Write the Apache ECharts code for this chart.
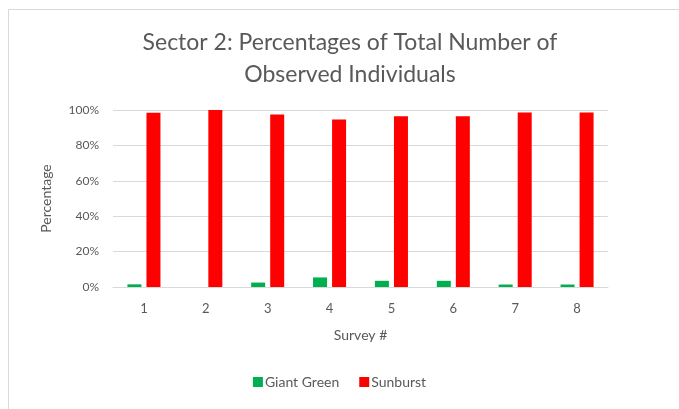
<!DOCTYPE html>
<html>
<head>
<meta charset="utf-8">
<script src="https://cdn.jsdelivr.net/npm/echarts@6/dist/echarts.min.js"></script>
<style>
  html, body { margin: 0; padding: 0; background: #fff; }
  #chart { width: 679px; height: 409px; }
</style>
</head>
<body>
<div id="chart"></div>
<script>
// Survey numbers along the x axis
const surveys = ['1', '2', '3', '4', '5', '6', '7', '8'];
// Share of observed individuals per species, in percent
const giantGreen = [1.5, 0, 2.5, 5.4, 3.5, 3.5, 1.4, 1.4];
const sunburst = [98.5, 100, 97.5, 94.6, 96.5, 96.5, 98.6, 98.6];
// Percentage axis
const yMin = 0, yMax = 100, yStep = 20;

const textColor = '#595959';
const font = 'Lato, "Open Sans", sans-serif';

const chart = echarts.init(document.getElementById('chart'));
chart.setOption({
  backgroundColor: '#ffffff',
  animation: false,
  graphic: [{
    type: 'rect',
    shape: { x: 8.5, y: 9.5, width: 700, height: 420 },
    style: { fill: 'none', stroke: '#d9d9d9', lineWidth: 1 },
    silent: true
  }],
  title: {
    text: 'Sector 2: Percentages of Total Number of\nObserved Individuals',
    left: 345, top: 22, textAlign: 'center',
    textStyle: { color: textColor, fontFamily: font, fontSize: 23, fontWeight: 'normal', lineHeight: 32 }
  },
  legend: {
    bottom: 15, left: 'center',
    itemWidth: 10, itemHeight: 10, itemGap: 20,
    icon: 'rect',
    textStyle: { color: textColor, fontFamily: font, fontSize: 14, padding: [0, 0, 0, -3] },
    data: ['Giant Green', 'Sunburst']
  },
  grid: { left: 113, right: 71, top: 110, bottom: 122, containLabel: false },
  xAxis: {
    type: 'category',
    data: surveys,
    name: 'Survey #', nameLocation: 'middle', nameGap: 41,
    nameTextStyle: { color: textColor, fontFamily: font, fontSize: 14 },
    axisLine: { lineStyle: { color: '#d9d9d9' } },
    axisTick: { show: false },
    axisLabel: { color: textColor, fontFamily: font, fontSize: 13, margin: 15 }
  },
  yAxis: {
    type: 'value',
    min: yMin, max: yMax, interval: yStep,
    name: 'Percentage', nameLocation: 'middle', nameGap: 60,
    nameTextStyle: { color: textColor, fontFamily: font, fontSize: 14 },
    axisLine: { show: false },
    axisTick: { show: false },
    axisLabel: { color: textColor, fontFamily: font, fontSize: 12, margin: 14, formatter: v => v + '%' },
    splitLine: { lineStyle: { color: '#d9d9d9', width: 1 } }
  },
  series: [
    { name: 'Giant Green', type: 'bar', data: giantGreen, barWidth: 14, barGap: '36%',
      itemStyle: { color: '#00b050' } },
    { name: 'Sunburst', type: 'bar', data: sunburst, barWidth: 14, barGap: '36%',
      itemStyle: { color: '#ff0000' } }
  ]
});
</script>
</body>
</html>
